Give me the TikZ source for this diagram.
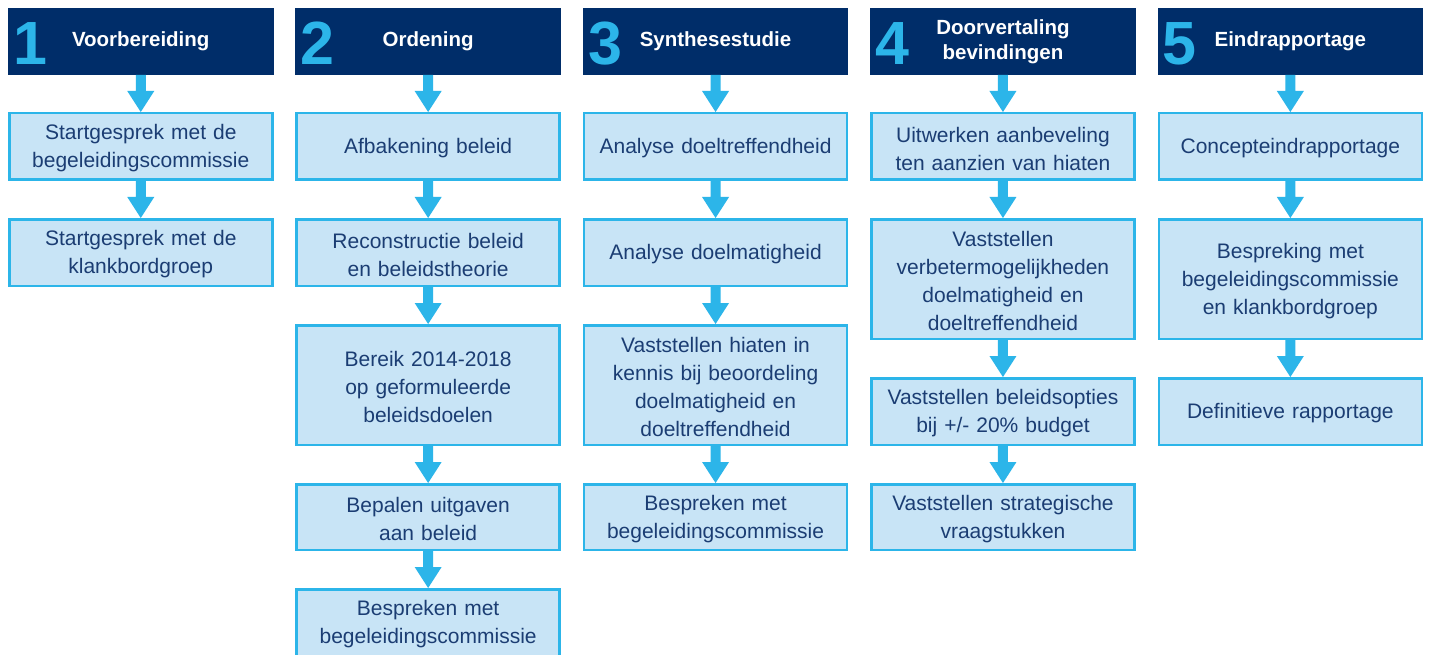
\documentclass[tikz,border=0pt]{standalone}
\usepackage{fontspec}
\setmainfont{Liberation Sans}
\usetikzlibrary{calc}
\definecolor{navy}{HTML}{002D69}
\definecolor{cy}{HTML}{2CB5E9}
\definecolor{boxfill}{HTML}{C8E4F6}
\definecolor{boxtext}{HTML}{1B3D73}
\newcommand\mybox[5]{\node[bx, minimum height={#4-#3-2.5}] (#1) at (#2,{(#3+#4)/2}) {};
  \node[bxt] (#1t) at ($(#1.center)+(0,2)$) {#5};}
\newcommand\flow[2]{\fill[cy] ($(#1.south)+(-5,0)$) -- ($(#2.north)+(-5,-21)$) -- ($(#2.north)+(-13.5,-21)$) -- (#2.north) -- ($(#2.north)+(13.5,-21)$) -- ($(#2.north)+(5,-21)$) -- ($(#1.south)+(5,0)$) -- cycle;}
\newcommand\header[4]{%
  \node[hd] (#1) at (#2,41.5) {};
  \node[ttl] (#1t) at (#1.center) {#4};
  \node[num] (#1n) at ($(#1.south west)+(5,-10)$) {#3};}
\begin{document}
\begin{tikzpicture}[x=1pt,y=-1pt,
  bx/.style={draw=cy, line width=2.5pt, fill=boxfill, minimum width=263pt, outer sep=1.25pt, inner sep=0pt},
  bxt/.style={text width=255pt, align=center, inner sep=0pt, text=boxtext, font=\fontsize{21}{28}\selectfont},
  hd/.style={fill=navy, minimum width=265.5pt, minimum height=67pt, inner sep=0pt, outer sep=0pt},
  ttl/.style={text=white, align=center, inner sep=0pt, font=\fontsize{20.5}{25}\selectfont\bfseries},
  num/.style={text=cy, anchor=base west, inner sep=0pt, font=\fontsize{61}{61}\selectfont\bfseries}]
\clip (0,0) rectangle (1429,655);
\fill[white] (0,0) rectangle (1429,655);
\def\cA{140.75}\def\cB{428.15}\def\cC{715.55}\def\cD{1002.95}\def\cE{1290.35}
\header{h1}{\cA}{1}{Voorbereiding}
\header{h2}{\cB}{2}{Ordening}
\header{h3}{\cC}{3}{Synthesestudie}
\header{h4}{\cD}{4}{Doorvertaling\\bevindingen}
\header{h5}{\cE}{5}{Eindrapportage}
% column 1
\mybox{b11}{\cA}{112}{181}{Startgesprek met de\\begeleidingscommissie}
\mybox{b12}{\cA}{218}{287}{Startgesprek met de\\klankbordgroep}
% column 2
\mybox{b21}{\cB}{112}{181}{Afbakening beleid}
\mybox{b22}{\cB}{218}{287}{Reconstructie beleid\\en beleidstheorie}
\mybox{b23}{\cB}{324}{446}{Bereik 2014-2018\\op geformuleerde\\beleidsdoelen}
\mybox{b24}{\cB}{483}{551}{Bepalen uitgaven\\aan beleid}
\mybox{b25}{\cB}{588}{657}{Bespreken met\\begeleidingscommissie}
% column 3
\mybox{b31}{\cC}{112}{181}{Analyse doeltreffendheid}
\mybox{b32}{\cC}{218}{287}{Analyse doelmatigheid}
\mybox{b33}{\cC}{324}{446}{Vaststellen hiaten in\\kennis bij beoordeling\\doelmatigheid en\\doeltreffendheid}
\mybox{b34}{\cC}{483}{551}{Bespreken met\\begeleidingscommissie}
% column 4
\mybox{b41}{\cD}{112}{181}{Uitwerken aanbeveling\\ten aanzien van hiaten}
\mybox{b42}{\cD}{218}{340}{Vaststellen\\verbetermogelijkheden\\doelmatigheid en\\doeltreffendheid}
\mybox{b43}{\cD}{377}{446}{Vaststellen beleidsopties\\bij +/- 20\% budget}
\mybox{b44}{\cD}{483}{551}{Vaststellen strategische\\vraagstukken}
% column 5
\mybox{b51}{\cE}{112}{181}{Concepteindrapportage}
\mybox{b52}{\cE}{218}{340}{Bespreking met\\begeleidingscommissie\\en klankbordgroep}
\mybox{b53}{\cE}{377}{446}{Definitieve rapportage}
% arrows
\flow{h1}{b11}\flow{b11}{b12}
\flow{h2}{b21}\flow{b21}{b22}\flow{b22}{b23}\flow{b23}{b24}\flow{b24}{b25}
\flow{h3}{b31}\flow{b31}{b32}\flow{b32}{b33}\flow{b33}{b34}
\flow{h4}{b41}\flow{b41}{b42}\flow{b42}{b43}\flow{b43}{b44}
\flow{h5}{b51}\flow{b51}{b52}\flow{b52}{b53}
\end{tikzpicture}
\end{document}
